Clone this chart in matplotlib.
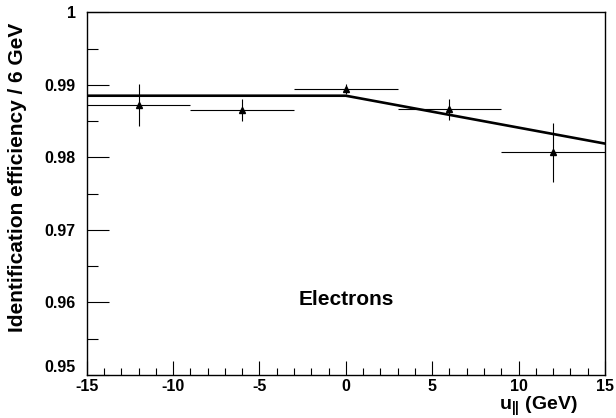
import numpy as np
import matplotlib
matplotlib.use("Agg")
import matplotlib.pyplot as plt
from matplotlib.ticker import MultipleLocator

plt.rcParams['font.family'] = ['Liberation Sans', 'DejaVu Sans']
plt.rcParams['font.weight'] = 'bold'
plt.rcParams['axes.unicode_minus'] = False
plt.rcParams['mathtext.fontset'] = 'custom'
plt.rcParams['mathtext.rm'] = 'Liberation Sans:bold'
plt.rcParams['mathtext.bf'] = 'Liberation Sans:bold'
plt.rcParams['mathtext.it'] = 'Liberation Sans:bold'

# measured points
u_par = [-12, -6, 0, 6, 12]
u_err = [3, 3, 3, 3, 3]
eff = [0.9872, 0.9865, 0.9894, 0.9866, 0.9807]
eff_err = [0.0029, 0.0015, 0.0007, 0.0015, 0.0041]

# fit: plateau then linear drop above 0
fit_x = [-15, 0, 15]
fit_y = [0.9885, 0.9885, 0.9819]

y_ticks = [0.95, 0.96, 0.97, 0.98, 0.99, 1.0]
y_ticklabels = ['0.95', '0.96', '0.97', '0.98', '0.99', '1']

fig = plt.figure(figsize=(6.16, 4.18), dpi=100)
ax = fig.add_axes([0.1407, 0.1029, 0.8414, 0.8677])

ax.plot(fit_x, fit_y, color='black', lw=1.9, zorder=2)
ax.errorbar(u_par, eff, xerr=u_err, yerr=eff_err, fmt='^', color='black',
            ms=5, elinewidth=0.8, capsize=0, zorder=3)

ax.set_xlim(-15, 15)
ax.set_ylim(0.95, 1.0)
ax.xaxis.set_major_locator(MultipleLocator(5))
ax.xaxis.set_minor_locator(MultipleLocator(1))
ax.yaxis.set_minor_locator(MultipleLocator(0.005))
ax.set_yticks(y_ticks)
ax.set_yticklabels(y_ticklabels)
ax.tick_params(which='both', direction='in', width=0.8, labelsize=11.5)
ax.tick_params(axis='x', which='major', length=10, pad=3)
ax.tick_params(axis='x', which='minor', length=5)
ax.tick_params(axis='y', which='major', length=16, pad=8)
ax.tick_params(axis='y', which='minor', length=8)
ax.tick_params(top=False, right=False, which='both')
# ROOT puts the lowest y label above the corner
ax.get_yticklabels()[0].set_verticalalignment('bottom')
for s in ax.spines.values():
    s.set_linewidth(1.0)

fig.text(0.0276, 0.945, 'Identification efficiency / 6 GeV', fontsize=15,
         fontweight='bold', rotation=90, ha='center', va='top')
fig.text(0.938, 0.018, r'$\mathbf{u_{||}}$ (GeV)', fontsize=14, fontweight='bold', ha='right')

ax.text(0, 0.9604, 'Electrons', fontsize=15, fontweight='bold', ha='center', va='center')

fig.savefig('out.png', dpi=100)
